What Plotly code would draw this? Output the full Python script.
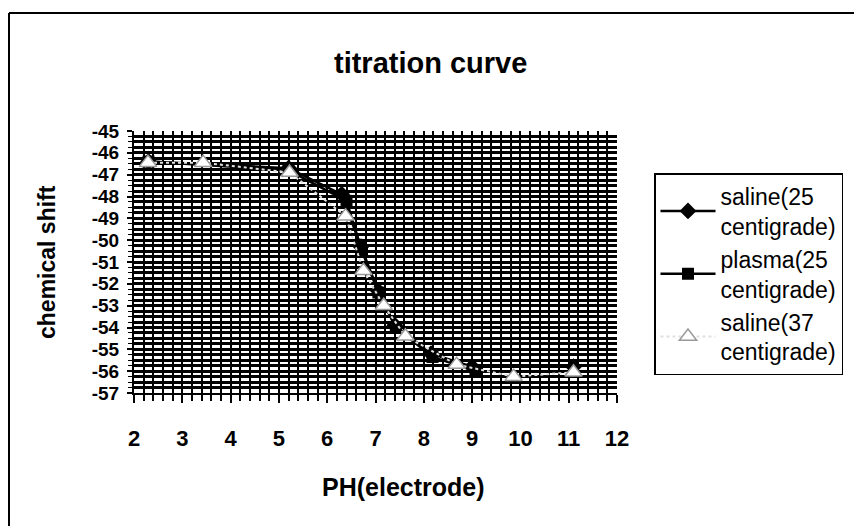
import plotly.graph_objects as go

# ---- data ----
saline25_ph = [2.3, 5.2, 6.3, 6.7, 7.05, 7.4, 8.15, 9.0, 11.1]
saline25_shift = [-46.4, -46.7, -47.9, -50.3, -52.3, -53.9, -55.2, -55.8, -55.8]

plasma25_ph = [2.3, 5.2, 6.4, 6.72, 7.06, 7.42, 8.18, 9.07]
plasma25_shift = [-46.4, -46.8, -48.2, -50.5, -52.4, -54.0, -55.35, -56.0]

saline37_ph = [2.29, 3.43, 5.22, 6.38, 6.75, 7.17, 7.62, 8.68, 9.86, 11.1]
saline37_shift = [-46.45, -46.45, -46.9, -48.9, -51.4, -53.0, -54.4, -55.7, -56.25, -56.05]

x_ticks = [2, 3, 4, 5, 6, 7, 8, 9, 10, 11, 12]
y_ticks = [-45, -46, -47, -48, -49, -50, -51, -52, -53, -54, -55, -56, -57]

series_names = ["saline(25<br>centigrade)", "plasma(25<br>centigrade)", "saline(37<br>centigrade)"]

FONT = "Liberation Sans, Arial, sans-serif"

fig = go.Figure()
fig.add_trace(go.Scatter(
    x=saline25_ph, y=saline25_shift, name=series_names[0], mode="lines+markers",
    line=dict(color="black", width=2.5),
    marker=dict(symbol="diamond", size=13, color="black")))
fig.add_trace(go.Scatter(
    x=plasma25_ph, y=plasma25_shift, name=series_names[1], mode="lines+markers",
    line=dict(color="black", width=2.5),
    marker=dict(symbol="square", size=12, color="black")))
fig.add_trace(go.Scatter(
    x=saline37_ph, y=saline37_shift, name=series_names[2], mode="lines+markers",
    line=dict(color="#e0e0e0", width=2, dash="dot"),
    marker=dict(symbol="triangle-up", size=15, color="white",
                line=dict(color="#9a9a9a", width=1.5))))

# The page body has an 8px margin, so the figure is drawn 8px in from the window corner.
OFF = 8
W, H = 862 - OFF, 526 - OFF
# plot area in window pixels: x 134..617, y 131..393
L, R, T, B = 134 - OFF, 862 - 617, 131 - OFF, 526 - 393
PW, PH = W - L - R, H - T - B

def px(xw):
    return (xw - OFF - L) / PW

def py(yw):
    return (H - B - (yw - OFF)) / PH

fig.update_layout(
    width=W, height=H,
    margin=dict(l=L, r=R, t=T, b=B, autoexpand=False),
    paper_bgcolor="white", plot_bgcolor="white",
    font=dict(family=FONT, color="black"),
    showlegend=True,
    legend=dict(x=px(654), y=py(173), xanchor="left", yanchor="top",
                bordercolor="black", borderwidth=1.5, bgcolor="white",
                font=dict(family=FONT, size=23, color="black"),
                itemwidth=55, tracegroupgap=4),
    xaxis=dict(range=[2, 12], tickvals=x_ticks, ticktext=[str(v) for v in x_ticks],
               showline=True, linecolor="black", linewidth=2, mirror=False,
               ticks="outside", ticklen=8, tickwidth=2, tickcolor="black",
               ticklabelstandoff=17,
               tickfont=dict(family=FONT, size=22, color="black", weight="bold"),
               showgrid=True, gridcolor="black", gridwidth=2,
               minor=dict(dtick=0.2, showgrid=True, gridcolor="black", gridwidth=2,
                          ticks="outside", ticklen=6, tickwidth=1.5, tickcolor="black"),
               zeroline=False, fixedrange=True),
    yaxis=dict(range=[-57, -45], tickvals=y_ticks, ticktext=[str(v) for v in y_ticks],
               showline=True, linecolor="black", linewidth=2,
               ticks="outside", ticklen=5, tickwidth=2, tickcolor="black",
               ticklabelstandoff=4,
               tickfont=dict(family=FONT, size=19, color="black", weight="bold"),
               showgrid=True, gridcolor="black", gridwidth=2.5,
               minor=dict(dtick=0.25, showgrid=True, gridcolor="black", gridwidth=2.5,
                          ticks="outside", ticklen=4, tickwidth=1, tickcolor="black"),
               zeroline=False, fixedrange=True),
    annotations=[
        dict(text="<b>titration curve</b>", x=px(430), y=py(63), xref="paper", yref="paper",
             showarrow=False, font=dict(family=FONT, size=29, color="black"),
             xanchor="center", yanchor="middle"),
        dict(text="<b>PH(electrode)</b>", x=px(403), y=py(487), xref="paper", yref="paper",
             showarrow=False, font=dict(family=FONT, size=25, color="black"),
             xanchor="center", yanchor="middle"),
        dict(text="<b>chemical shift</b>", x=px(47), y=py(262), xref="paper", yref="paper",
             showarrow=False, textangle=-90, font=dict(family=FONT, size=23, color="black"),
             xanchor="center", yanchor="middle"),
    ],
    shapes=[
        dict(type="line", xref="paper", yref="paper", x0=px(9), x1=px(870), y0=py(13), y1=py(13),
             line=dict(color="black", width=2)),
        dict(type="line", xref="paper", yref="paper", x0=px(9), x1=px(9), y0=py(13), y1=py(540),
             line=dict(color="black", width=2)),
    ],
)

fig.write_html("out.html")
